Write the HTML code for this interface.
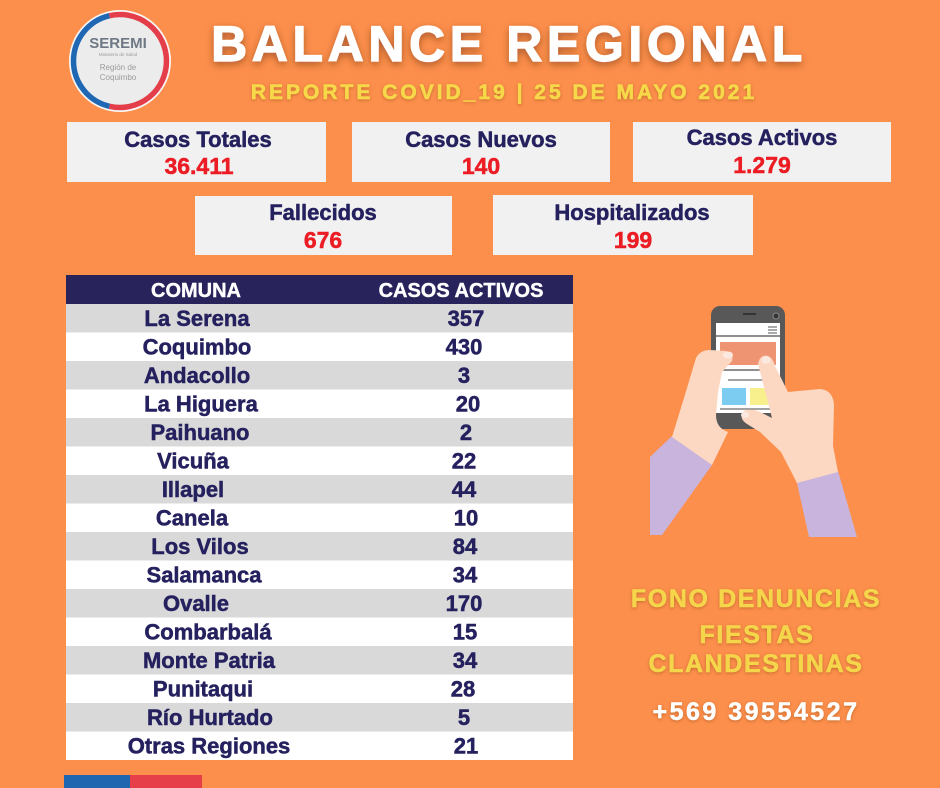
<!DOCTYPE html>
<html>
<head>
<meta charset="utf-8">
<style>
  html,body{margin:0;padding:0;background:#fd8f4c;}
  svg{display:block;}
  text{font-family:"Liberation Sans",Arial,sans-serif;font-weight:bold;}
</style>
</head>
<body>
<svg width="940" height="788" viewBox="0 0 940 788" xmlns="http://www.w3.org/2000/svg">
  <defs>
    <filter id="sh" x="-10%" y="-40%" width="120%" height="180%">
      <feDropShadow dx="0" dy="3" stdDeviation="4" flood-color="#6b2e0a" flood-opacity="0.55"/>
    </filter>
    <filter id="sh2" x="-10%" y="-40%" width="120%" height="180%">
      <feDropShadow dx="0" dy="1" stdDeviation="1.5" flood-color="#7a3a10" flood-opacity="0.45"/>
    </filter>
  </defs>
  <rect x="0" y="0" width="940" height="788" fill="#fd8f4c"/>

  <!-- Logo -->
  <circle cx="120" cy="61" r="51" fill="#f7f7f7"/>
  <circle cx="120" cy="61" r="44" fill="#ececec"/>
  <path d="M109.5 15.7 A46.5 46.5 0 0 0 109.5 106.3" fill="none" stroke="#2067b3" stroke-width="5.5"/>
  <path d="M109.5 15.7 A46.5 46.5 0 1 1 109.5 106.3" fill="none" stroke="#e53e4b" stroke-width="5.5"/>
  <text x="118" y="48" font-size="15" fill="#6e7884" text-anchor="middle">SEREMI</text>
  <text x="118" y="56" font-size="4.5" fill="#9a9a9a" text-anchor="middle" style="font-weight:normal">Ministerio de Salud</text>
  <text x="118" y="70" font-size="8" fill="#9a9a9a" text-anchor="middle" style="font-weight:normal">Región de</text>
  <text x="118" y="80" font-size="8" fill="#9a9a9a" text-anchor="middle" style="font-weight:normal">Coquimbo</text>

  <!-- Title -->
  <text x="509" y="61" font-size="50" fill="#ffffff" stroke="#ffffff" stroke-width="1.2" text-anchor="middle" letter-spacing="4.6" filter="url(#sh)">BALANCE REGIONAL</text>
  <text x="504" y="99" font-size="21" fill="#f6d84a" stroke="#f6d84a" stroke-width="0.6" text-anchor="middle" letter-spacing="3" filter="url(#sh2)">REPORTE COVID_19 | 25 DE MAYO 2021</text>

  <!-- Stat boxes -->
  <g fill="#f1f1f1">
    <rect x="67" y="122" width="259" height="60"/>
    <rect x="352" y="122" width="258" height="60"/>
    <rect x="633" y="122" width="258" height="60"/>
    <rect x="195" y="196" width="257" height="59"/>
    <rect x="493" y="195" width="260" height="60"/>
  </g>
  <g font-size="22" fill="#25215e" stroke="#25215e" stroke-width="0.5" text-anchor="middle">
    <text x="198" y="147">Casos Totales</text>
    <text x="481" y="147">Casos Nuevos</text>
    <text x="762" y="145">Casos Activos</text>
    <text x="323" y="220">Fallecidos</text>
    <text x="632" y="220">Hospitalizados</text>
  </g>
  <g font-size="23" fill="#ec1c24" stroke="#ec1c24" stroke-width="0.5" text-anchor="middle">
    <text x="199" y="174">36.411</text>
    <text x="481" y="174">140</text>
    <text x="762" y="173">1.279</text>
    <text x="323" y="248">676</text>
    <text x="633" y="248">199</text>
  </g>

  <!-- Table -->
  <rect x="66" y="275" width="507" height="29" fill="#29235c"/>
  <g font-size="20" fill="#ffffff" stroke="#ffffff" stroke-width="0.4" text-anchor="middle">
    <text x="196" y="297">COMUNA</text>
    <text x="461" y="297">CASOS ACTIVOS</text>
  </g>

  <g>
    <rect x="66" y="304" width="507" height="28.5" fill="#d9d9d9"/>
    <rect x="66" y="332.5" width="507" height="28.5" fill="#ffffff"/>
    <rect x="66" y="361" width="507" height="28.5" fill="#d9d9d9"/>
    <rect x="66" y="389.5" width="507" height="28.5" fill="#ffffff"/>
    <rect x="66" y="418" width="507" height="28.5" fill="#d9d9d9"/>
    <rect x="66" y="446.5" width="507" height="28.5" fill="#ffffff"/>
    <rect x="66" y="475" width="507" height="28.5" fill="#d9d9d9"/>
    <rect x="66" y="503.5" width="507" height="28.5" fill="#ffffff"/>
    <rect x="66" y="532" width="507" height="28.5" fill="#d9d9d9"/>
    <rect x="66" y="560.5" width="507" height="28.5" fill="#ffffff"/>
    <rect x="66" y="589" width="507" height="28.5" fill="#d9d9d9"/>
    <rect x="66" y="617.5" width="507" height="28.5" fill="#ffffff"/>
    <rect x="66" y="646" width="507" height="28.5" fill="#d9d9d9"/>
    <rect x="66" y="674.5" width="507" height="28.5" fill="#ffffff"/>
    <rect x="66" y="703" width="507" height="28.5" fill="#d9d9d9"/>
    <rect x="66" y="731.5" width="507" height="28.5" fill="#ffffff"/>
  </g>

  <g font-size="22" fill="#25215e" stroke="#25215e" stroke-width="0.5" text-anchor="middle">
    <text x="197" y="326">La Serena</text>
    <text x="197" y="354.5">Coquimbo</text>
    <text x="197" y="383">Andacollo</text>
    <text x="201" y="411.5">La Higuera</text>
    <text x="200" y="440">Paihuano</text>
    <text x="193" y="468.5">Vicuña</text>
    <text x="193" y="497">Illapel</text>
    <text x="192" y="525.5">Canela</text>
    <text x="200" y="554">Los Vilos</text>
    <text x="204" y="582.5">Salamanca</text>
    <text x="196" y="611">Ovalle</text>
    <text x="208" y="639.5">Combarbalá</text>
    <text x="209" y="668">Monte Patria</text>
    <text x="203" y="696.5">Punitaqui</text>
    <text x="210" y="725">Río Hurtado</text>
    <text x="209" y="753.5">Otras Regiones</text>
  </g>
  <g font-size="22" fill="#25215e" stroke="#25215e" stroke-width="0.5" text-anchor="middle">
    <text x="466" y="326">357</text>
    <text x="464" y="354.5">430</text>
    <text x="464" y="383">3</text>
    <text x="468" y="411.5">20</text>
    <text x="466" y="440">2</text>
    <text x="464" y="468.5">22</text>
    <text x="464" y="497">44</text>
    <text x="466" y="525.5">10</text>
    <text x="465" y="554">84</text>
    <text x="465" y="582.5">34</text>
    <text x="464" y="611">170</text>
    <text x="465" y="639.5">15</text>
    <text x="465" y="668">34</text>
    <text x="463" y="696.5">28</text>
    <text x="464" y="725">5</text>
    <text x="466" y="753.5">21</text>
  </g>

  <!-- bottom flag bar -->
  <rect x="64" y="775" width="66" height="13" fill="#1f66b1"/>
  <rect x="130" y="775" width="72" height="13" fill="#e63f4a"/>

  <!-- Phone illustration -->
  <polygon points="650,457 672,436 712,465 662,535 650,535" fill="#c8b4dc"/>
  <polygon points="797,483 838,471 857,537 809,537" fill="#c8b4dc"/>

  <rect x="711" y="306" width="74" height="123" rx="9" fill="#585858"/>
  <rect x="716" y="323" width="64" height="90" fill="#ffffff"/>
  <line x1="716" y1="336" x2="780" y2="336" stroke="#6a6a6a" stroke-width="1.5"/>
  <rect x="720" y="342" width="56" height="23" fill="#ee9472"/>
  <line x1="722" y1="370" x2="776" y2="370" stroke="#6a6a6a" stroke-width="1.5"/>
  <line x1="728" y1="380" x2="776" y2="380" stroke="#6a6a6a" stroke-width="1.2"/>
  <rect x="722" y="388" width="24" height="17" fill="#7ccbf0"/>
  <rect x="750" y="388" width="20" height="17" fill="#f8f08c"/>
  <line x1="720" y1="409" x2="776" y2="409" stroke="#6a6a6a" stroke-width="1.2"/>
  <rect x="743" y="313" width="13" height="2" fill="#333"/>
  <circle cx="776" cy="316" r="3" fill="#333" stroke="#888" stroke-width="1"/>
  <g stroke="#555" stroke-width="1">
    <line x1="768" y1="327" x2="777" y2="327"/>
    <line x1="768" y1="330" x2="777" y2="330"/>
    <line x1="768" y1="333" x2="777" y2="333"/>
  </g>

  <!-- left hand -->
  <path d="M696 358 Q700 350 710 350 L726 351 Q734 353 732 361 L722 372 L718 392 L716 415 Q716 428 728 432 L712 465 L672 437 L684 398 Z" fill="#fcd8c2"/>
  <ellipse cx="728" cy="355" rx="5" ry="3.5" fill="#fbe9e0"/>
  <!-- right hand -->
  <path d="M758 364 Q760 354 768 356 Q773 358 775 366 L788 392 L820 389 Q833 390 834 405 L833 446 L838 472 L797 483 L781 452 L760 432 L747 424 Q738 418 744 411 Q750 408 758 411 L772 418 L770 410 Z" fill="#fcd8c2"/>
  <ellipse cx="766" cy="360" rx="4.5" ry="3.8" fill="#fbe9e0"/>
  <ellipse cx="745" cy="415" rx="4" ry="3" fill="#fbe9e0"/>

  <!-- Hotline text -->
  <g font-size="25" fill="#f5d64b" stroke="#f5d64b" stroke-width="0.5" text-anchor="middle" letter-spacing="1.6" filter="url(#sh2)">
    <text x="756" y="607">FONO DENUNCIAS</text>
    <text x="757" y="643">FIESTAS</text>
    <text x="756" y="672">CLANDESTINAS</text>
  </g>
  <text x="756" y="720" font-size="25" fill="#ffffff" stroke="#ffffff" stroke-width="0.5" text-anchor="middle" letter-spacing="2.5" filter="url(#sh2)">+569 39554527</text>
</svg>
</body>
</html>
